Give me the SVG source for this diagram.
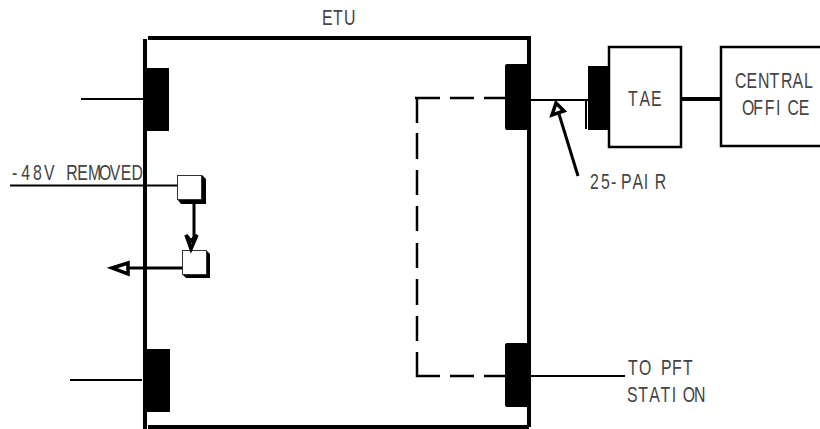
<svg xmlns="http://www.w3.org/2000/svg" width="820" height="429" viewBox="0 0 820 429">
<style>
.w{stroke:#000;fill:none;stroke-width:4}
.c{stroke:#000;fill:none;stroke-width:2}
.d{stroke:#000;fill:none;stroke-width:2.500}
.t{stroke:#000;fill:none;stroke-width:3}
.k{fill:#000}
.b{fill:#fff;stroke:#000;stroke-width:2.500}
.s{fill:#fff;stroke:#333;stroke-width:1}
.h{fill:#fff;stroke:#000;stroke-width:3.500}
text{font-family:"Liberation Sans",Arial,sans-serif;font-size:22px;fill:#444}
</style>
<rect width="820" height="429" fill="#fff"/>
<g id="etu">
<path class="w" d="M148 38H529V427M145 39V429M148 427H529"/>
<text transform="translate(322 25) scale(.72 1)" x="0 15.300 30.600">ETU</text>
</g>
<g id="connector-top-left"><rect class="k" x="144" y="68" width="25" height="63"/></g>
<g id="connector-bottom-left"><rect class="k" x="143" y="349" width="27" height="63"/></g>
<g id="connector-top-right"><rect class="k" x="505" y="64" width="24" height="66" rx="2"/></g>
<g id="connector-bottom-right"><rect class="k" x="505" y="343" width="24" height="64" rx="2"/></g>
<g id="relay-1">
<path class="k" d="M177 199L181 204H206V179L202 175Z"/>
<rect class="s" x="177.500" y="175.500" width="24" height="24"/>
</g>
<g id="relay-2">
<path class="k" d="M182 274L186 278H210V254L206 250Z"/>
<rect class="s" x="182.500" y="250.500" width="24" height="24"/>
</g>
<g id="tae">
<rect class="k" x="588" y="66" width="22" height="64"/>
<rect class="b" x="609" y="47" width="72" height="100"/>
<text transform="translate(628 106) scale(.72 1)" x="0 16 32">TAE</text>
</g>
<g id="central-office">
<path class="b" d="M821 47H721V146H821"/>
<text transform="translate(735 88) scale(.72 1)" x="0 16 32 48 64 80 96">CENTRAL</text>
<text transform="translate(742 115) scale(.72 1)" x="0 15.800 31.600 47.400 63.200 79">OFFICE</text>
</g>
<g id="labels">
<text transform="translate(12 180) scale(.72 1)" x="0 13 29 44.300 60.400 75.500 90.600 105.700 120.800 135.900 151 166.100">-48V REMOVED</text>
<text transform="translate(590 189) scale(.72 1)" x="0 15.300 29 43 59.200 74.500 89.800">25-PAIR</text>
<text transform="translate(628 375) scale(.72 1)" x="0 15.300 30.600 45.900 61.200 76.500">TO PFT</text>
<text transform="translate(627 402) scale(.72 1)" x="0 15.500 31 46.500 62 77.500 93">STATION</text>
</g>
<g id="connectors">
<path class="c" d="M81 99H144M70 380H142M10 185.500H177M531 100H588M586 100V129M531 376H625"/>
<path class="t" d="M194 203V238M128 268H182"/>
<path class="k" d="M681 97H720V101H681Z"/>
<path class="d" d="M415 98H440M450 98H474M484 98H505M417 98V123M417 133V159M417 170V195M417 206V231M417 243V268M417 279V305M417 316V341M417 352V376H440M450 376H474M484 376H505"/>
<path class="h" d="M186 235L191 249L197 235L191 241Z"/>
<path class="h" d="M128 263L112 268L128 274Z"/>
<path class="t" d="M578 176L559 114"/>
<path class="h" d="M556 103L552 115L564 111Z"/>
</g>
</svg>
